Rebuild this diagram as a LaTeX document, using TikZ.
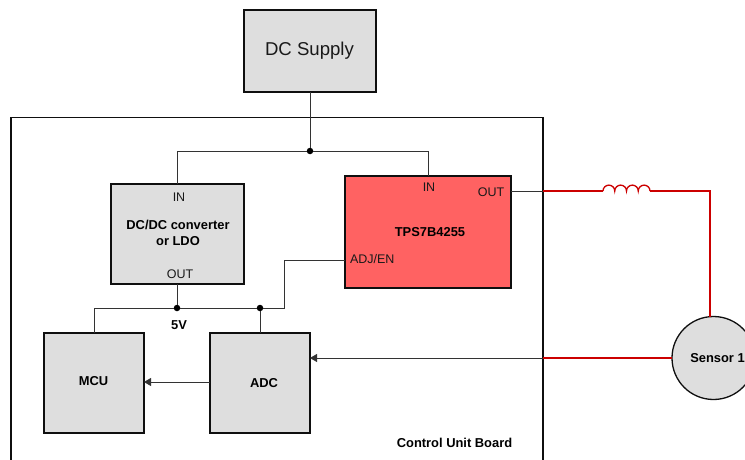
\documentclass[tikz,border=0pt]{standalone}
\usepackage{fontspec}
\setmainfont{Liberation Sans}
\usetikzlibrary{arrows.meta}
\definecolor{boxgrey}{RGB}{222,222,222}
\definecolor{tired}{RGB}{255,98,98}
\definecolor{wirered}{RGB}{204,0,0}
\definecolor{edge}{RGB}{15,15,15}
\tikzset{
  every node/.append style={outer sep=0pt},
  blockbox/.style={draw=edge,fill=boxgrey,line width=1.7pt,rectangle,inner sep=0pt,anchor=north west},
  wire/.style={draw=edge!85!white,line width=0.95pt},
  redwire/.style={draw=wirered,line width=1.6pt},
  flow/.style={wire,-{Triangle[length=7pt,width=8pt]}},
  dotnode/.style={circle,fill=black,inner sep=0pt,minimum size=6.5pt},
  lab/.style={inner sep=0pt,font=\fontsize{12.5}{14}\selectfont,text=black!90},
  blab/.style={inner sep=0pt,font=\fontsize{12.9}{16}\selectfont\bfseries,align=center},
}
\begin{document}
\begin{tikzpicture}[x=1pt,y=-1pt]
\useasboundingbox (0,0) rectangle (745,460);
\clip (0,0) rectangle (745,460);
% board (open past the lower edge)
\node[draw=edge,line width=1.6pt,rectangle,inner sep=0pt,anchor=north west,minimum width=532pt,minimum height=380pt] (board) at (11,117.5) {};
% blocks
\node[blockbox,line width=1.9pt,minimum width=132pt,minimum height=82pt] (supply) at (244,10) {};
\node[blockbox,minimum width=133pt,minimum height=100pt] (dcdc) at (111,184) {};
\node[blockbox,fill=tired,minimum width=166pt,minimum height=112pt] (tps) at (345,176) {};
\node[blockbox,minimum width=100pt,minimum height=100pt] (mcu) at (44,333) {};
\node[blockbox,minimum width=100pt,minimum height=100pt] (adc) at (210,333) {};
\node[circle,draw=edge,fill=boxgrey,line width=1.3pt,inner sep=0pt,minimum size=83pt] (sensor) at (713.5,358) {};
% junctions
\node[dotnode] (j1) at (310,151) {};
\node[dotnode] (j2) at (177,308) {};
\node[dotnode] (j3) at (260,308) {};
\coordinate (outcross) at (543,191);
\coordinate (sencross) at (543,358);
\coordinate (lstart) at (603,191);
\coordinate (lend) at (650,191);
\coordinate (rcorner) at (710,191);
\coordinate (adjturn) at (284,260);
% connectors
\draw[wire] (supply.south -| j1) -- (j1);
\draw[wire] (j1) -| (dcdc.north -| 177,0);
\draw[wire] (j1) -| (tps.north -| 428,0);
\draw[wire] (j2) -- (dcdc.south -| j2);
\draw[wire] (mcu.north) |- (j2);
\draw[wire] (j2) -- (j3);
\draw[wire] (j3) -- (adc.north -| j3);
\draw[wire] (j3) -| (adjturn) -- (tps.west |- adjturn);
\draw[wire] (tps.east |- outcross) -- (outcross);
\draw[flow] (sencross) -- (adc.east |- sencross);
\draw[flow] (adc.west |- 0,382) -- (mcu.east |- 0,382);
\draw[redwire] (outcross) -- (lstart);
\draw[redwire,line width=1.3pt] (lstart) arc[start angle=180,end angle=0,radius=5.875pt]
  arc[start angle=180,end angle=0,radius=5.875pt]
  arc[start angle=180,end angle=0,radius=5.875pt]
  arc[start angle=180,end angle=0,radius=5.875pt];
\draw[redwire] (lend) -- (rcorner) -- (rcorner |- sensor.north);
\draw[redwire] (sencross) -- (sensor.west);
% labels
\node[inner sep=0pt,font=\fontsize{18.6}{20}\selectfont,text=black!90] (tsupply) at (309.5,51) {DC Supply};
\node[lab] (t1) at (179,197) {IN};
\node[lab] (t2) at (180,274) {OUT};
\node[blab] (t3) at (178,233) {DC/DC converter\\or LDO};
\node[blab] (t4) at (430,232.5) {TPS7B4255};
\node[lab] (t5) at (429,187.5) {IN};
\node[lab] (t6) at (491,192.5) {OUT};
\node[lab,anchor=west] (t7) at (350,259.5) {ADJ/EN};
\node[blab] (t8) at (179,325) {5V};
\node[blab] (t9) at (93.5,381.5) {MCU};
\node[blab] (t10) at (264,383.5) {ADC};
\node[blab] (t11) at (717.5,358.5) {Sensor 1};
\node[blab] (t12) at (454.5,442.5) {Control Unit Board};
\end{tikzpicture}
\end{document}
